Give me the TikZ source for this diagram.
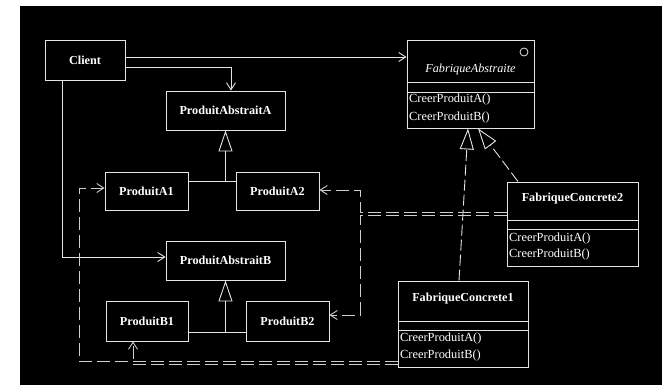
\documentclass[tikz,border=0pt]{standalone}
\usepackage{fontspec}
\setmainfont{Liberation Serif}
\usetikzlibrary{arrows.meta}
\definecolor{ink}{RGB}{228,228,228}
\definecolor{dashink}{RGB}{205,205,205}
\begin{document}
\begin{tikzpicture}[x=1pt,y=-1pt,
  box/.style={draw=ink, line width=0.9pt, inner sep=0pt, text=white,
    font=\fontsize{12.2}{14}\selectfont\bfseries},
  title/.style={inner sep=0pt, text=white, font=\fontsize{12.2}{14}\selectfont\bfseries},
  method/.style={anchor=west, inner sep=0pt, text=white, font=\fontsize{12.4}{14}\selectfont},
  rule/.style={draw=ink, line width=0.9pt},
  assoc/.style={draw=ink, line width=0.9pt, -{Straight Barb[length=7pt,width=9pt]}},
  dep/.style={assoc, draw=dashink, dash pattern=on 13pt off 5pt},
  inherit/.style={draw=ink, line width=0.9pt, -{Triangle[open,length=21pt,width=14pt]}},
  realize/.style={inherit, dash pattern=on 11pt off 4pt},
]
% page and dark canvas
\fill[white] (0,0) rectangle (662,385);
\fill[black] (20,6) rectangle (662,385);
\useasboundingbox (0,0) rectangle (662,385);

% client and products
\node[box, minimum width=80pt, minimum height=40pt] (client) at (85,60) {Client};
\node[box, minimum width=119pt, minimum height=39pt] (paa) at (225.5,110.5) {ProduitAbstraitA};
\node[box, minimum width=83pt, minimum height=38pt] (a1) at (146.5,191) {ProduitA1};
\node[box, minimum width=83pt, minimum height=38pt] (a2) at (277.5,191) {ProduitA2};
\node[box, minimum width=119pt, minimum height=39pt] (pab) at (225.5,260.5) {ProduitAbstraitB};
\node[box, minimum width=82pt, minimum height=40pt] (b1) at (147,321) {ProduitB1};
\node[box, minimum width=83pt, minimum height=40pt] (b2) at (287.5,321) {ProduitB2};

% abstract factory
\node[box, minimum width=127pt, minimum height=88pt] (fa) at (470.5,84) {};
\draw[rule] (fa.west |- 0,82) -- (fa.east |- 0,82);
\draw[rule] (fa.west |- 0,92) -- (fa.east |- 0,92);
\draw[ink, line width=0.8pt] (524,52) circle[radius=4pt];
\node[title, font=\fontsize{12.2}{14}\selectfont\itshape] (fa-name) at (470.5,70) {FabriqueAbstraite};
\node[method] (fa-m1) at (409,100) {CreerProduitA()};
\node[method] (fa-m2) at (409,118) {CreerProduitB()};

% concrete factory 2
\node[box, minimum width=131pt, minimum height=84pt] (fc2) at (572.5,224) {};
\draw[rule] (fc2.west |- 0,220) -- (fc2.east |- 0,220);
\draw[rule] (fc2.west |- 0,229) -- (fc2.east |- 0,229);
\node[title] (fc2-name) at (572.5,199) {FabriqueConcrete2};
\node[method] (fc2-m1) at (509,239) {CreerProduitA()};
\node[method] (fc2-m2) at (509,255) {CreerProduitB()};

% concrete factory 1
\node[box, minimum width=130pt, minimum height=86pt] (fc1) at (463,324) {};
\draw[rule] (fc1.west |- 0,321) -- (fc1.east |- 0,321);
\draw[rule] (fc1.west |- 0,330) -- (fc1.east |- 0,330);
\node[title] (fc1-name) at (463,299) {FabriqueConcrete1};
\node[method] (fc1-m1) at (400,339) {CreerProduitA()};
\node[method] (fc1-m2) at (400,356) {CreerProduitB()};

% client associations
\draw[assoc] (client.east |- 0,57) -- (fa.west |- 0,57);
\draw[assoc] (client.east |- 0,67) -| (paa.north -| 231,0);
\draw[assoc] (client.south -| 62,0) |- (pab.west |- 0,257);

% product hierarchies
\coordinate (ja) at (225.5,181);
\draw[rule] (a1.east |- ja) -- (a2.west |- ja);
\draw[inherit] (ja) -- (paa.south);
\coordinate (jb) at (225.5,332);
\draw[rule] (b1.east |- jb) -- (b2.west |- jb);
\draw[inherit] (jb) -- (pab.south);

% factory realizations
\draw[realize] (fc1.north -| 459,0) -- (fa.south -| 468,0);
\draw[realize] (fc2.north -| 518,0) -- (fa.south -| 478,0);

% factory dependencies on products
\draw[dep] (fc2.west |- 0,212.5) -- (360,212.5) |- (a2.east |- 0,190);
\draw[dep] (fc2.west |- 0,215) -- (360,215) |- (b2.east |- 0,315);
\draw[dep] (fc1.west |- 0,361.5) -- (79,361.5) |- (a1.west |- 0,188);
\draw[dep] (fc1.west |- 0,364) -| (b1.south -| 133,0);
\end{tikzpicture}
\end{document}
